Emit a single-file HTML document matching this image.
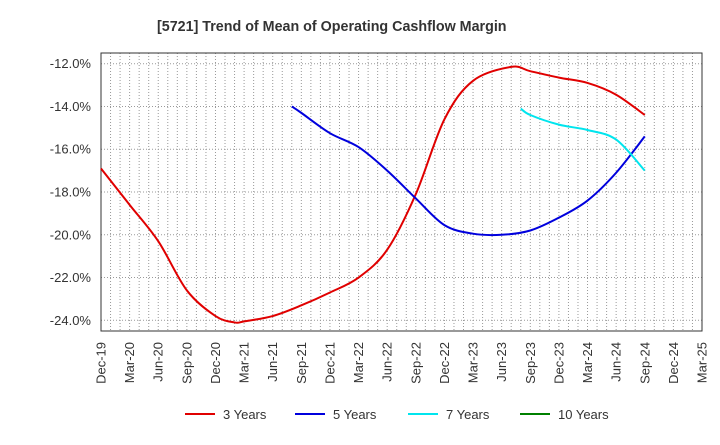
<!DOCTYPE html>
<html><head><meta charset="utf-8"><style>
body{margin:0;background:#fff;font-family:"Liberation Sans",sans-serif;}
svg text{font-family:"Liberation Sans",sans-serif;}
</style></head><body>
<svg id="chart" width="720" height="440" xmlns="http://www.w3.org/2000/svg">
<text x="157" y="31" font-size="14.3" font-weight="bold" fill="#333">[5721]  Trend of Mean of Operating Cashflow Margin</text>
<g id="grid"></g><g id="axes"></g><g id="series"></g><g id="legend"></g>
</svg>
<script>
const xLabels=["Dec-19","Mar-20","Jun-20","Sep-20","Dec-20","Mar-21","Jun-21","Sep-21","Dec-21","Mar-22","Jun-22","Sep-22","Dec-22","Mar-23","Jun-23","Sep-23","Dec-23","Mar-24","Jun-24","Sep-24","Dec-24","Mar-25"];
const yTicks=[-12,-14,-16,-18,-20,-22,-24];
// month index from Dec-19
const m3=[0,3,6,9,12,14,15,18,21,24,27,30,33,36,39,43,45,48,51,54,57];
const v3=[-16.9,-18.6,-20.3,-22.6,-23.8,-24.1,-24.05,-23.8,-23.3,-22.7,-22.0,-20.7,-18.1,-14.6,-12.8,-12.15,-12.35,-12.65,-12.9,-13.45,-14.4];
const m5=[20,21,24,27,30,33,36,39,42,45,48,51,54,57];
const v5=[-14.0,-14.3,-15.25,-15.9,-17.0,-18.3,-19.55,-19.95,-20.0,-19.8,-19.2,-18.4,-17.1,-15.4];
const m7=[44,45,48,51,54,57];
const v7=[-14.1,-14.4,-14.85,-15.1,-15.55,-17.0];
const m10=[];const v10=[];
const X0=101,X1=702,Y0=53,Y1=331,MON=63,VMAX=-11.5,VMIN=-24.5;
const xs=m=>X0+(X1-X0)*m/MON;
const ys=v=>Y0+(VMAX-v)/(VMAX-VMIN)*(Y1-Y0);
const NS="http://www.w3.org/2000/svg";
function mk(t,a,p){const e=document.createElementNS(NS,t);for(const k in a)e.setAttribute(k,a[k]);p.appendChild(e);return e;}
const grid=document.getElementById('grid'),axes=document.getElementById('axes'),ser=document.getElementById('series'),leg=document.getElementById('legend');
for(let m=1;m<MON;m++){const l=mk('line',{x1:xs(m),x2:xs(m),y1:Y0,y2:Y1,stroke:'#999','stroke-dasharray':'1,2','stroke-width':1},grid);

}
yTicks.forEach(v=>{const l=mk('line',{x1:X0,x2:X1,y1:ys(v),y2:ys(v),stroke:'#999','stroke-dasharray':'1,2','stroke-width':1},grid);


const t=mk('text',{x:X0-10,y:ys(v)+4.5,'font-size':13,'text-anchor':'end',fill:'#333'},axes);t.textContent=v.toFixed(1)+'%';

});
xLabels.forEach((s,i)=>{const x=xs(i*3);const t=mk('text',{transform:`translate(${x+4.5},${Y1+11}) rotate(-90)`,'font-size':13,'text-anchor':'end',fill:'#333'},axes);t.textContent=s;

});
const fr=mk('rect',{x:X0,y:Y0,width:X1-X0,height:Y1-Y0,fill:'none',stroke:'#333','stroke-width':1},axes);


function path(ms,vs){const p=ms.map((m,i)=>[xs(m),ys(vs[i])]);if(!p.length)return'';let d=`M${p[0][0]},${p[0][1]}`;
for(let i=0;i<p.length-1;i++){const a=p[i-1]||p[i],b=p[i],c=p[i+1],e=p[i+2]||c;
d+=` C${b[0]+(c[0]-a[0])/6},${b[1]+(c[1]-a[1])/6} ${c[0]-(e[0]-b[0])/6},${c[1]-(e[1]-b[1])/6} ${c[0]},${c[1]}`;}return d;}
const series=[["3 Years",m3,v3,"#e00000"],["5 Years",m5,v5,"#0000dd"],["7 Years",m7,v7,"#00e5ee"],["10 Years",m10,v10,"#008000"]];
const lx=[185,295,408,520];
series.forEach((s,i)=>{if(s[1].length){const p=mk('path',{d:path(s[1],s[2]),fill:'none',stroke:s[3],'stroke-width':2},ser);

}
const g=mk('g',{},leg);


mk('line',{x1:lx[i],x2:lx[i]+30,y1:414,y2:414,stroke:s[3],'stroke-width':2},g);
const t=mk('text',{x:lx[i]+38,y:419,'font-size':13,fill:'#333'},g);t.textContent=s[0];});
</script>
</body></html>
